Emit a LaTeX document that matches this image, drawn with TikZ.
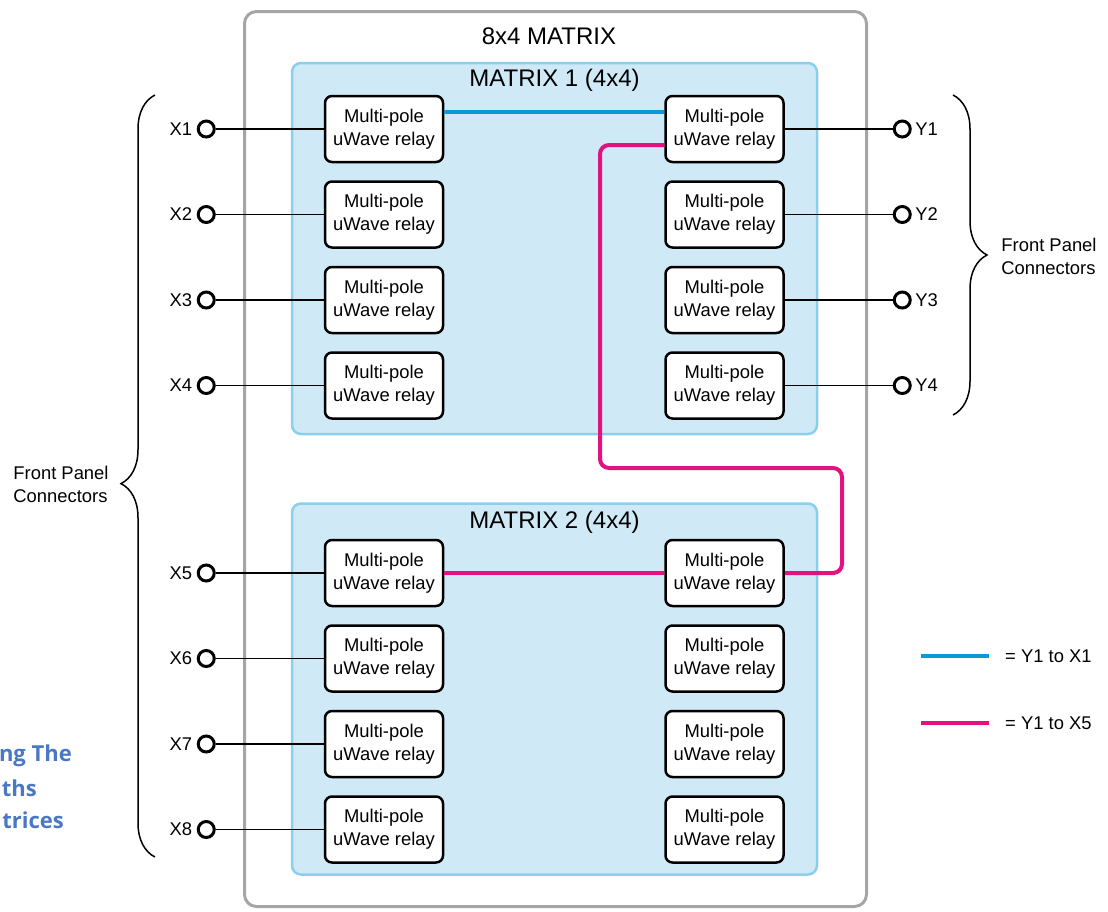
\documentclass[tikz,border=0pt]{standalone}
\usepackage{fontspec}
\setmainfont{Liberation Sans}
\newfontfamily\headfont{Open Sans}
\usepackage{xcolor}
\usetikzlibrary{positioning, decorations.pathreplacing}

\definecolor{framegray}{HTML}{A5A5A5}
\definecolor{matfill}{HTML}{CFEAF6}
\definecolor{matedge}{HTML}{8AD0EE}
\definecolor{pathblue}{HTML}{0A9AD8}
\definecolor{pathmag}{HTML}{E2127F}
\definecolor{headblue}{HTML}{4A78C4}

\begin{document}
\begin{tikzpicture}[x=1pt, y=-1pt,
    font=\fontsize{18.4}{23}\selectfont,
    frame/.style={draw=framegray, line width=3pt, rounded corners=12pt,
                  minimum width=622pt, minimum height=895pt},
    matbox/.style={draw=matedge, fill=matfill, line width=2.5pt, rounded corners=9pt,
                   minimum width=525pt, minimum height=371pt},
    ttl/.style={font=\fontsize{24}{28}\selectfont},
    relay/.style={draw, line width=2.5pt, rounded corners=7pt, fill=white, align=center,
                  minimum width=118pt, minimum height=66pt, inner sep=0pt},
    port/.style={circle, draw, line width=3pt, minimum size=16pt, inner sep=0pt},
    wire/.style={line width=1.4pt},
    bluepath/.style={draw=pathblue, line width=4pt},
    magpath/.style={draw=pathmag, line width=4pt, rounded corners=9pt},
    brc/.style={decorate, decoration={brace, amplitude=34pt, aspect=#1}, line width=1.5pt},
    head/.style={anchor=east, inner sep=0pt, text=headblue,
                 font=\headfont\bfseries\fontsize{22}{26}\selectfont}
  ]
  \useasboundingbox (0,0) rectangle (1108,911);

  % frame and the two 4x4 blocks
  \node[frame] (outer) at (555.5,459) {};
  \node[ttl] (outtl) at (549,36) {8x4 MATRIX};
  \node[matbox] (m1) at (554.5,248.5) {};
  \node[matbox] (m2) at (554.5,689) {};
  \node[ttl] (m1tl) at ([yshift=-19pt]m1.north) {MATRIX 1 (4x4)};
  \node[ttl] (m2tl) at ([yshift=-20pt]m2.north) {MATRIX 2 (4x4)};

  % relays, left column
  \node[relay] (L1) at (384,129) {Multi-pole\\uWave relay};
  \node[relay, below=17pt of L1] (L2) {Multi-pole\\uWave relay};
  \node[relay, below=17pt of L2] (L3) {Multi-pole\\uWave relay};
  \node[relay, below=17pt of L3] (L4) {Multi-pole\\uWave relay};
  \node[relay, below=119pt of L4] (L5) {Multi-pole\\uWave relay};
  \node[relay, below=17pt of L5] (L6) {Multi-pole\\uWave relay};
  \node[relay, below=17pt of L6] (L7) {Multi-pole\\uWave relay};
  \node[relay, below=17pt of L7] (L8) {Multi-pole\\uWave relay};

  % relays, right column
  \node[relay, right=220pt of L1] (R1) {Multi-pole\\uWave relay};
  \node[relay, right=220pt of L2] (R2) {Multi-pole\\uWave relay};
  \node[relay, right=220pt of L3] (R3) {Multi-pole\\uWave relay};
  \node[relay, right=220pt of L4] (R4) {Multi-pole\\uWave relay};
  \node[relay, right=220pt of L5] (R5) {Multi-pole\\uWave relay};
  \node[relay, right=220pt of L6] (R6) {Multi-pole\\uWave relay};
  \node[relay, right=220pt of L7] (R7) {Multi-pole\\uWave relay};
  \node[relay, right=220pt of L8] (R8) {Multi-pole\\uWave relay};

  % front panel ports
  \node[port, left=108pt of L1, label={[label distance=1pt]left:X1}] (X1) {};
  \node[port, left=108pt of L2, label={[label distance=1pt]left:X2}] (X2) {};
  \node[port, left=108pt of L3, label={[label distance=1pt]left:X3}] (X3) {};
  \node[port, left=108pt of L4, label={[label distance=1pt]left:X4}] (X4) {};
  \node[port, left=108pt of L5, label={[label distance=1pt]left:X5}] (X5) {};
  \node[port, left=108pt of L6, label={[label distance=1pt]left:X6}] (X6) {};
  \node[port, left=108pt of L7, label={[label distance=1pt]left:X7}] (X7) {};
  \node[port, left=108pt of L8, label={[label distance=1pt]left:X8}] (X8) {};
  \node[port, right=108pt of R1, label={[label distance=0pt]right:Y1}] (Y1) {};
  \node[port, right=108pt of R2, label={[label distance=0pt]right:Y2}] (Y2) {};
  \node[port, right=108pt of R3, label={[label distance=0pt]right:Y3}] (Y3) {};
  \node[port, right=108pt of R4, label={[label distance=0pt]right:Y4}] (Y4) {};

  \draw[wire] (X1) -- (L1);
  \draw[wire] (X2) -- (L2);
  \draw[wire] (X3) -- (L3);
  \draw[wire] (X4) -- (L4);
  \draw[wire] (X5) -- (L5);
  \draw[wire] (X6) -- (L6);
  \draw[wire] (X7) -- (L7);
  \draw[wire] (X8) -- (L8);
  \draw[wire] (R1) -- (Y1);
  \draw[wire] (R2) -- (Y2);
  \draw[wire] (R3) -- (Y3);
  \draw[wire] (R4) -- (Y4);

  % highlighted routes
  \coordinate (bendA) at (600,468);
  \coordinate (bendB) at (842,468);
  \draw[bluepath] ([yshift=17pt]L1.east) -- ([yshift=17pt]R1.west);
  \draw[magpath] ([yshift=-16pt]R1.west) -| (bendA) -- (bendB) |- (R5.east);
  \draw[magpath] (L5) -- (R5);

  % braces
  \draw[brc=0.49] (155,857) -- (155,95);
  \draw[brc=0.5] (953,95) -- (953,415);
  \node[align=left] (fpl) at (61,484) {Front Panel\\Connectors};
  \node[align=left] (fpr) at (1049,256) {Front Panel\\Connectors};

  % legend
  \node[anchor=west, inner sep=0pt] (lgblue) at (1005,656) {= Y1 to X1};
  \node[anchor=west, inner sep=0pt] (lgmag) at (1005,723) {= Y1 to X5};
  \draw[bluepath] ([xshift=-84pt]lgblue.west) -- ([xshift=-16pt]lgblue.west);
  \draw[magpath] ([xshift=-84pt]lgmag.west) -- ([xshift=-16pt]lgmag.west);

  % cut-off heading at the left edge
  \node[head] (hd1) at (72,756) {ng The};
  \node[head] (hd2) at (37,788) {ths};
  \node[head] (hd3) at (64,820) {trices};
\end{tikzpicture}
\end{document}
